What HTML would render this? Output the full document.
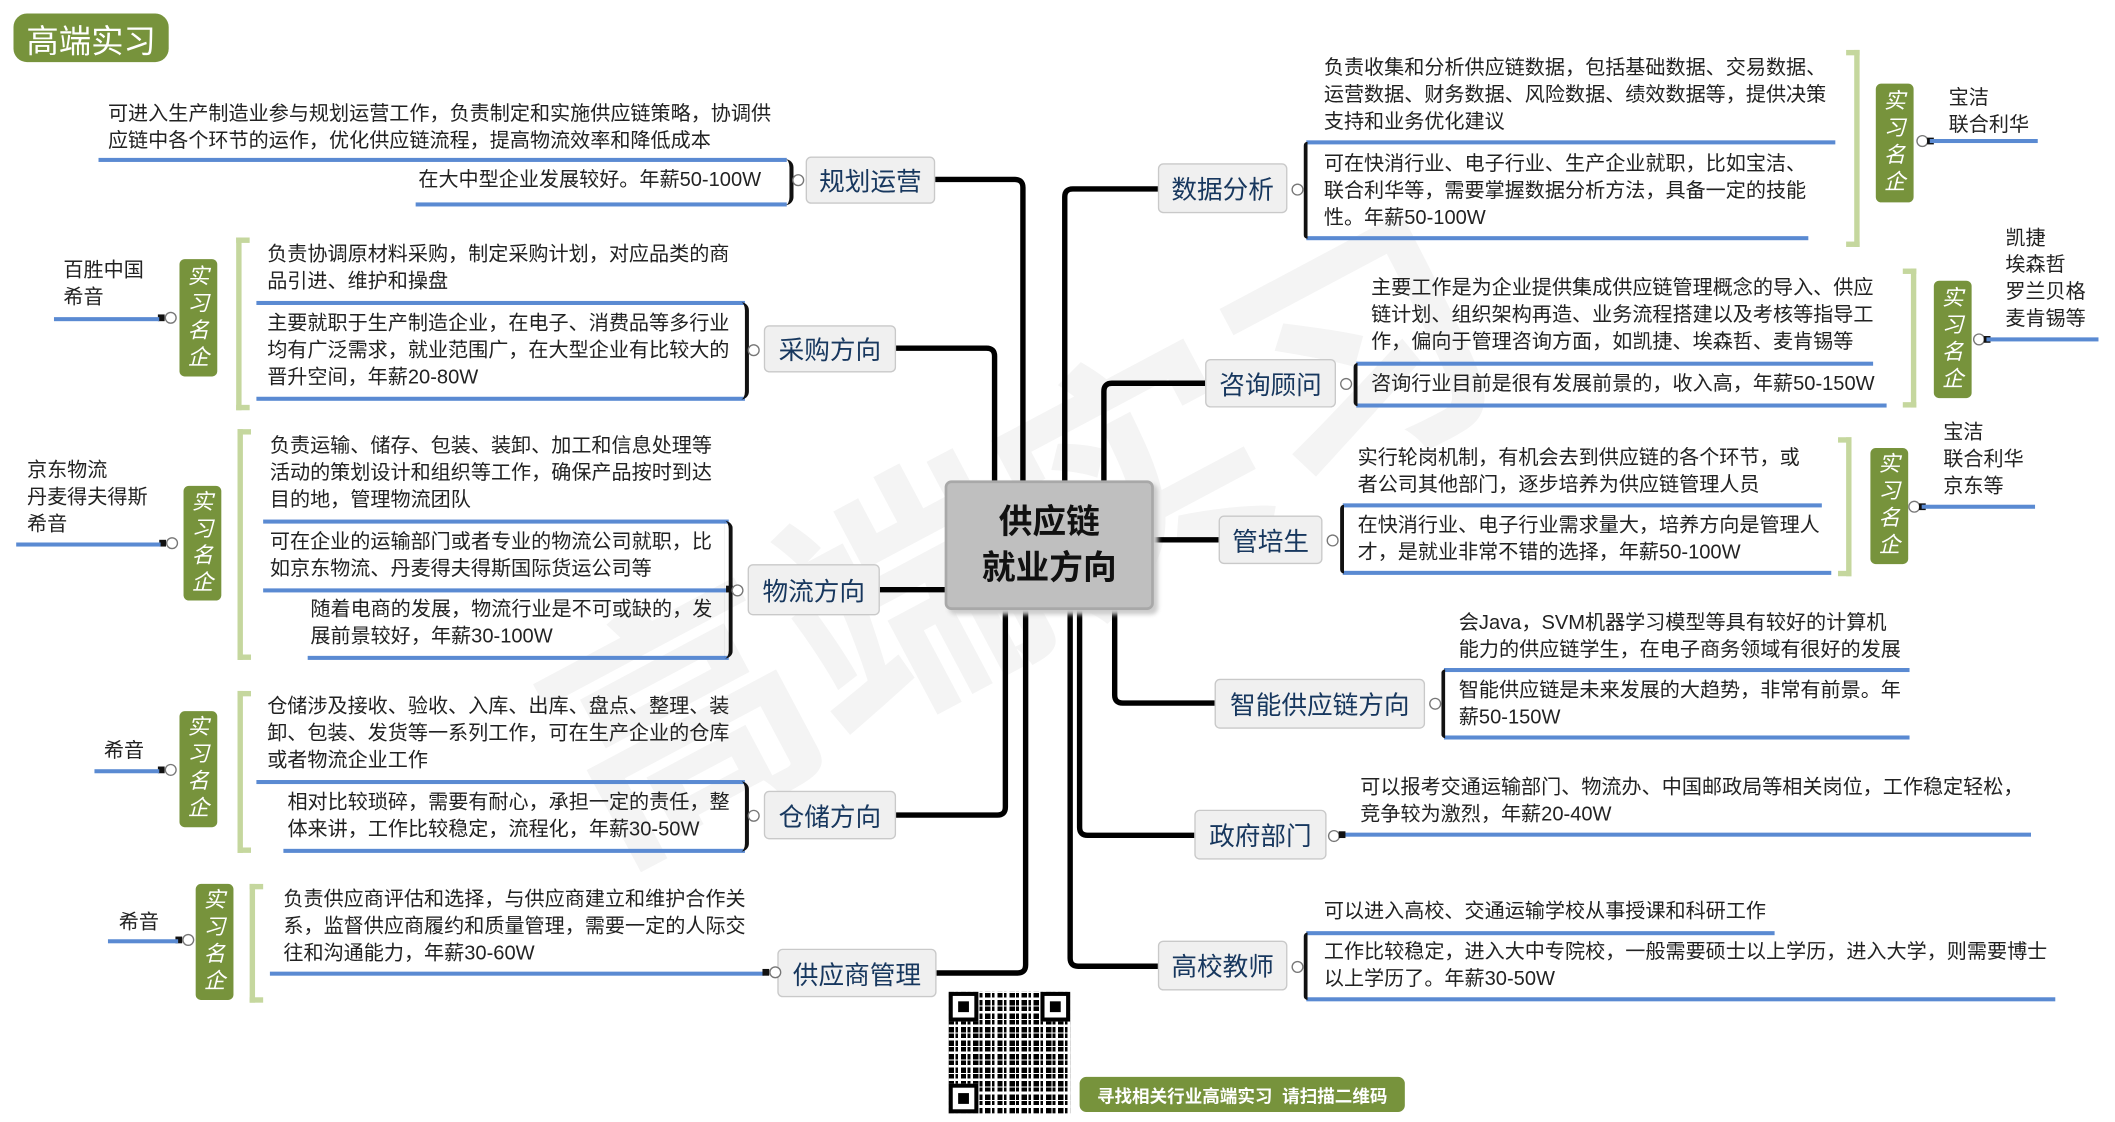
<!DOCTYPE html>
<html><head><meta charset="utf-8"><style>
html,body{margin:0;padding:0;background:#fff;}
body{width:2115px;height:1122px;overflow:hidden;position:relative;font-family:"Liberation Sans","Noto Sans CJK SC",sans-serif;}
#s{position:absolute;left:0;top:0;width:1560px;height:830px;transform:scale(1.3495);transform-origin:0 0;}
.t{position:absolute;font-size:14.9px;line-height:20px;color:#222;white-space:nowrap;}
.u{position:absolute;height:2.5px;background:#5a8ad2;}
.n{position:absolute;background:#f0f0f0;border:1.5px solid #c9c9c9;border-radius:4px;box-sizing:border-box;color:#17375e;font-size:19px;display:flex;align-items:center;justify-content:center;white-space:nowrap;}
.br{position:absolute;border-left:3px solid #111;border-radius:6px 0 0 6px;}
.c{position:absolute;width:7px;height:7px;border:1.3px solid #777;border-radius:50%;background:#fff;}
.g{position:absolute;border:4px solid #c5d79e;border-right:none;}
.gr{position:absolute;border:4px solid #c5d79e;border-left:none;}
.b{position:absolute;width:28px;background:#77933c;border-radius:4px;color:#fff;font-size:16px;line-height:20px;text-align:center;font-style:italic;display:flex;align-items:center;justify-content:center;}
.sq{position:absolute;width:5px;height:5px;background:#111;}
.wm{position:absolute;color:#f4f4f4;font-weight:bold;font-size:190px;white-space:nowrap;transform:rotate(-28deg);}
</style></head><body><div id="s">
<div class="wm" style="left:370px;top:250px;">高端实习</div>

<div style="position:absolute;left:10px;top:10px;width:115px;height:36px;background:#77933c;border-radius:10px;color:#fff;font-size:24px;display:flex;align-items:center;justify-content:center;">高端实习</div>

<svg style="position:absolute;left:0;top:0" width="1560" height="828">
<g fill="none" stroke="#000" stroke-width="4">
<path d="M693,133 H752 Q758,133 758,139 V360"/>
<path d="M664,258 H731 Q737,258 737,264 V360"/>
<path d="M652,437 H702"/>
<path d="M664,604 H739 Q745,604 745,598 V450"/>
<path d="M694,721 H754 Q760,721 760,715 V450"/>
<path d="M858,140 H795 Q789,140 789,146 V360"/>
<path d="M893,284 H824 Q818,284 818,290 V360"/>
<path d="M853,400 H903"/>
<path d="M900,521 H832 Q826,521 826,515 V450"/>
<path d="M885,619 H806 Q800,619 800,613 V450"/>
<path d="M858,716 H799 Q793,716 793,710 V450"/>
</g></svg>

<div style="position:absolute;left:700px;top:356px;width:155px;height:96px;background:#bfbfbf;border:2px solid #a8a8a8;border-radius:5px;box-sizing:border-box;box-shadow:3px 3px 3px #ccc;display:flex;align-items:center;justify-content:center;text-align:center;font-weight:bold;font-size:25px;line-height:34px;color:#111;">供应链<br>就业方向</div>

<!-- 规划运营 -->
<div class="n" style="left:597px;top:116px;width:96px;height:35px;">规划运营</div>
<div class="t" style="left:80px;top:75px;">可进入生产制造业参与规划运营工作，负责制定和实施供应链策略，协调供<br>应链中各个环节的运作，优化供应链流程，提高物流效率和降低成本</div>
<div class="u" style="left:73px;top:117px;width:510px;"></div>
<div class="t" style="left:310px;top:124px;">在大中型企业发展较好。年薪50-100W</div>
<div class="u" style="left:308px;top:150px;width:275px;"></div>
<div class="br" style="left:582px;top:118px;height:34px;border-left:0;border-right:3px solid #111;border-radius:0 6px 6px 0;width:3px;"></div>
<div class="c" style="left:587px;top:129px;"></div>

<!-- 采购方向 -->
<div class="n" style="left:566px;top:241px;width:98px;height:35px;">采购方向</div>
<div class="t" style="left:198px;top:179px;">负责协调原材料采购，制定采购计划，对应品类的商<br>品引进、维护和操盘</div>
<div class="u" style="left:190px;top:223px;width:362px;"></div>
<div class="t" style="left:198px;top:230px;">主要就职于生产制造企业，在电子、消费品等多行业<br>均有广泛需求，就业范围广，在大型企业有比较大的<br>晋升空间，年薪20-80W</div>
<div class="u" style="left:190px;top:294px;width:362px;"></div>
<div class="br" style="left:549px;top:224px;height:72px;border-left:0;border-right:3px solid #111;border-radius:0 6px 6px 0;width:3px;"></div>
<div class="c" style="left:554px;top:255px;"></div>
<div class="g" style="left:175px;top:176px;width:6px;height:120px;"></div>
<div class="b" style="left:133px;top:192px;height:87px;">实<br>习<br>名<br>企</div>
<div class="sq" style="left:117px;top:233px;"></div><div class="c" style="left:122px;top:231px;"></div>
<div class="u" style="left:40px;top:235px;width:78px;"></div>
<div class="t" style="left:47px;top:191px;">百胜中国<br>希音</div>

<!-- 物流方向 -->
<div class="n" style="left:554px;top:418px;width:98px;height:38px;">物流方向</div>
<div class="t" style="left:200px;top:321px;">负责运输、储存、包装、装卸、加工和信息处理等<br>活动的策划设计和组织等工作，确保产品按时到达<br>目的地，管理物流团队</div>
<div class="u" style="left:195px;top:385px;width:345px;"></div>
<div class="t" style="left:200px;top:392px;">可在企业的运输部门或者专业的物流公司就职，比<br>如京东物流、丹麦得夫得斯国际货运公司等</div>
<div class="u" style="left:195px;top:436px;width:345px;"></div>
<div class="t" style="left:230px;top:442px;">随着电商的发展，物流行业是不可或缺的，发<br>展前景较好，年薪30-100W</div>
<div class="u" style="left:228px;top:486px;width:312px;"></div>
<div class="br" style="left:537px;top:386px;height:102px;border-left:0;border-right:3px solid #111;border-radius:0 6px 6px 0;width:3px;"></div>
<div class="sq" style="left:538px;top:434px;"></div><div class="c" style="left:542px;top:433px;"></div>
<div class="g" style="left:176px;top:318px;width:6px;height:163px;"></div>
<div class="b" style="left:136px;top:360px;height:85px;">实<br>习<br>名<br>企</div>
<div class="sq" style="left:118px;top:400px;"></div><div class="c" style="left:123px;top:398px;"></div>
<div class="u" style="left:12px;top:402px;width:107px;"></div>
<div class="t" style="left:20px;top:339px;">京东物流<br>丹麦得夫得斯<br>希音</div>

<!-- 仓储方向 -->
<div class="n" style="left:566px;top:586px;width:98px;height:36px;">仓储方向</div>
<div class="t" style="left:198px;top:514px;">仓储涉及接收、验收、入库、出库、盘点、整理、装<br>卸、包装、发货等一系列工作，可在生产企业的仓库<br>或者物流企业工作</div>
<div class="u" style="left:190px;top:578px;width:362px;"></div>
<div class="t" style="left:213px;top:585px;">相对比较琐碎，需要有耐心，承担一定的责任，整<br>体来讲，工作比较稳定，流程化，年薪30-50W</div>
<div class="u" style="left:210px;top:629px;width:342px;"></div>
<div class="br" style="left:549px;top:579px;height:52px;border-left:0;border-right:3px solid #111;border-radius:0 6px 6px 0;width:3px;"></div>
<div class="c" style="left:554px;top:600px;"></div>
<div class="g" style="left:176px;top:512px;width:6px;height:112px;"></div>
<div class="b" style="left:133px;top:527px;height:86px;">实<br>习<br>名<br>企</div>
<div class="sq" style="left:117px;top:568px;"></div><div class="c" style="left:122px;top:566px;"></div>
<div class="u" style="left:70px;top:570px;width:48px;"></div>
<div class="t" style="left:77px;top:547px;">希音</div>

<!-- 供应商管理 -->
<div class="n" style="left:576px;top:703px;width:118px;height:36px;">供应商管理</div>
<div class="t" style="left:210px;top:657px;">负责供应商评估和选择，与供应商建立和维护合作关<br>系，监督供应商履约和质量管理，需要一定的人际交<br>往和沟通能力，年薪30-60W</div>
<div class="u" style="left:200px;top:720px;width:366px;"></div>
<div class="sq" style="left:565px;top:718px;"></div><div class="c" style="left:570px;top:716px;"></div>
<div class="g" style="left:185px;top:655px;width:6px;height:80px;"></div>
<div class="b" style="left:145px;top:655px;height:86px;">实<br>习<br>名<br>企</div>
<div class="sq" style="left:130px;top:694px;"></div><div class="c" style="left:135px;top:692px;"></div>
<div class="u" style="left:80px;top:696px;width:52px;"></div>
<div class="t" style="left:88px;top:674px;">希音</div>

<!-- 数据分析 -->
<div class="n" style="left:858px;top:121px;width:96px;height:37px;">数据分析</div>
<div class="t" style="left:981px;top:41px;">负责收集和分析供应链数据，包括基础数据、交易数据、<br>运营数据、财务数据、风险数据、绩效数据等，提供决策<br>支持和业务优化建议</div>
<div class="u" style="left:968px;top:104px;width:392px;"></div>
<div class="t" style="left:981px;top:112px;">可在快消行业、电子行业、生产企业就职，比如宝洁、<br>联合利华等，需要掌握数据分析方法，具备一定的技能<br>性。年薪50-100W</div>
<div class="u" style="left:968px;top:175px;width:372px;"></div>
<div class="br" style="left:966px;top:105px;height:72px;"></div>
<div class="c" style="left:957px;top:136px;"></div>
<div class="gr" style="left:1368px;top:37px;width:6px;height:138px;"></div>
<div class="b" style="left:1390px;top:62px;height:88px;">实<br>习<br>名<br>企</div>
<div class="c" style="left:1420px;top:100px;"></div><div class="sq" style="left:1428px;top:102px;"></div>
<div class="u" style="left:1430px;top:103px;width:80px;"></div>
<div class="t" style="left:1444px;top:63px;">宝洁<br>联合利华</div>

<!-- 咨询顾问 -->
<div class="n" style="left:893px;top:266px;width:97px;height:36px;">咨询顾问</div>
<div class="t" style="left:1016px;top:204px;">主要工作是为企业提供集成供应链管理概念的导入、供应<br>链计划、组织架构再造、业务流程搭建以及考核等指导工<br>作，偏向于管理咨询方面，如凯捷、埃森哲、麦肯锡等</div>
<div class="u" style="left:1005px;top:268px;width:383px;"></div>
<div class="t" style="left:1016px;top:275px;">咨询行业目前是很有发展前景的，收入高，年薪50-150W</div>
<div class="u" style="left:1005px;top:299px;width:393px;"></div>
<div class="br" style="left:1003px;top:269px;height:32px;"></div>
<div class="c" style="left:993px;top:280px;"></div>
<div class="gr" style="left:1410px;top:199px;width:6px;height:95px;"></div>
<div class="b" style="left:1433px;top:208px;height:87px;">实<br>习<br>名<br>企</div>
<div class="c" style="left:1462px;top:247px;"></div><div class="sq" style="left:1470px;top:249px;"></div>
<div class="u" style="left:1472px;top:250px;width:83px;"></div>
<div class="t" style="left:1486px;top:167px;">凯捷<br>埃森哲<br>罗兰贝格<br>麦肯锡等</div>

<!-- 管培生 -->
<div class="n" style="left:903px;top:382px;width:77px;height:36px;">管培生</div>
<div class="t" style="left:1006px;top:330px;">实行轮岗机制，有机会去到供应链的各个环节，或<br>者公司其他部门，逐步培养为供应链管理人员</div>
<div class="u" style="left:995px;top:373px;width:355px;"></div>
<div class="t" style="left:1006px;top:380px;">在快消行业、电子行业需求量大，培养方向是管理人<br>才，是就业非常不错的选择，年薪50-100W</div>
<div class="u" style="left:995px;top:423px;width:362px;"></div>
<div class="br" style="left:993px;top:374px;height:51px;"></div>
<div class="c" style="left:983px;top:396px;"></div>
<div class="gr" style="left:1362px;top:324px;width:6px;height:95px;"></div>
<div class="b" style="left:1386px;top:332px;height:86px;">实<br>习<br>名<br>企</div>
<div class="c" style="left:1414px;top:371px;"></div><div class="sq" style="left:1422px;top:373px;"></div>
<div class="u" style="left:1424px;top:374px;width:84px;"></div>
<div class="t" style="left:1440px;top:311px;">宝洁<br>联合利华<br>京东等</div>

<!-- 智能供应链方向 -->
<div class="n" style="left:900px;top:503px;width:156px;height:37px;">智能供应链方向</div>
<div class="t" style="left:1081px;top:452px;">会Java，SVM机器学习模型等具有较好的计算机<br>能力的供应链学生，在电子商务领域有很好的发展</div>
<div class="u" style="left:1070px;top:495px;width:345px;"></div>
<div class="t" style="left:1081px;top:502px;">智能供应链是未来发展的大趋势，非常有前景。年<br>薪50-150W</div>
<div class="u" style="left:1070px;top:545px;width:345px;"></div>
<div class="br" style="left:1068px;top:496px;height:51px;"></div>
<div class="c" style="left:1059px;top:517px;"></div>

<!-- 政府部门 -->
<div class="n" style="left:885px;top:600px;width:98px;height:37px;">政府部门</div>
<div class="t" style="left:1008px;top:574px;">可以报考交通运输部门、物流办、中国邮政局等相关岗位，工作稳定轻松，<br>竞争较为激烈，年薪20-40W</div>
<div class="u" style="left:992px;top:617px;width:513px;"></div>
<div class="c" style="left:984px;top:615px;"></div><div class="sq" style="left:992px;top:616px;"></div>

<!-- 高校教师 -->
<div class="n" style="left:858px;top:697px;width:96px;height:37px;">高校教师</div>
<div class="t" style="left:981px;top:666px;">可以进入高校、交通运输学校从事授课和科研工作</div>
<div class="u" style="left:968px;top:690px;width:347px;"></div>
<div class="t" style="left:981px;top:696px;">工作比较稳定，进入大中专院校，一般需要硕士以上学历，进入大学，则需要博士<br>以上学历了。年薪30-50W</div>
<div class="u" style="left:968px;top:739px;width:555px;"></div>
<div class="br" style="left:966px;top:691px;height:50px;"></div>
<div class="c" style="left:957px;top:712px;"></div>

<!-- QR -->
<div style="position:absolute;left:703px;top:735px;width:90px;height:90px;background:
repeating-linear-gradient(90deg,#000 0 4px,#fff 4px 5px,#000 5px 7px,#fff 7px 9px),#fff;"></div>
<div style="position:absolute;left:703px;top:735px;width:90px;height:90px;background:repeating-linear-gradient(0deg,transparent 0 4px,#fff 4px 6px,transparent 6px 9px,#fff 9px 10px);"></div>
<div style="position:absolute;left:703px;top:735px;width:16px;height:16px;border:3px solid #000;background:#fff;"><div style="margin:4px;width:8px;height:8px;background:#000"></div></div>
<div style="position:absolute;left:771px;top:735px;width:16px;height:16px;border:3px solid #000;background:#fff;"><div style="margin:4px;width:8px;height:8px;background:#000"></div></div>
<div style="position:absolute;left:703px;top:803px;width:16px;height:16px;border:3px solid #000;background:#fff;"><div style="margin:4px;width:8px;height:8px;background:#000"></div></div>

<div style="position:absolute;left:800px;top:798px;width:241px;height:26px;background:#77933c;border-radius:5px;color:#fff;font-size:13px;font-weight:bold;display:flex;align-items:center;justify-content:center;white-space:nowrap;">寻找相关行业高端实习&nbsp;&nbsp;请扫描二维码</div>
</div></body></html>
